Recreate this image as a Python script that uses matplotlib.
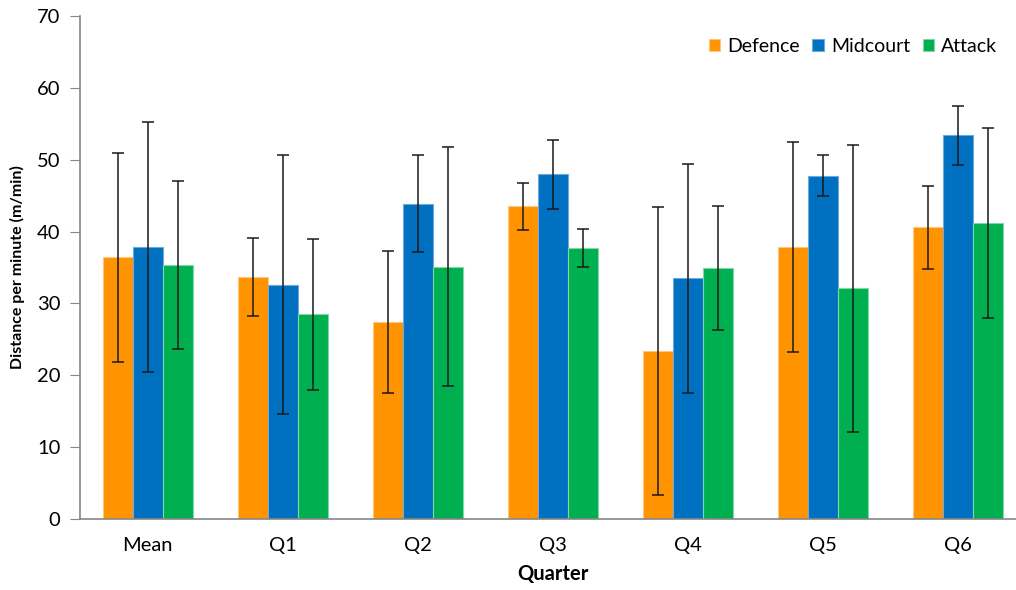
import numpy as np
import matplotlib
matplotlib.use("Agg")
import matplotlib.pyplot as plt

plt.rcParams["font.family"] = ["Lato", "DejaVu Sans"]

# ---- data ----
QUARTERS = ["Mean", "Q1", "Q2", "Q3", "Q4", "Q5", "Q6"]
SERIES = ["Defence", "Midcourt", "Attack"]

defence_mean = [36.4, 33.7, 27.4, 43.5, 23.4, 37.8, 40.6]
defence_sd = [14.6, 5.4, 9.9, 3.3, 20.0, 14.6, 5.8]
midcourt_mean = [37.8, 32.6, 43.9, 48.0, 33.5, 47.8, 53.4]
midcourt_sd = [17.4, 18.0, 6.7, 4.8, 15.9, 2.8, 4.1]
attack_mean = [35.4, 28.5, 35.1, 37.7, 34.9, 32.1, 41.2]
attack_sd = [11.7, 10.5, 16.6, 2.6, 8.6, 20.0, 13.2]

COLORS = ["#FF9400", "#0070C0", "#00B050"]
EDGES = ["#FFC880", "#6FA8DC", "#7FD8A8"]

W, H = 1016, 590
fig = plt.figure(figsize=(W / 100, H / 100), dpi=100)
# axes extends a bit past the right edge, as in the original (cropped)
ax = fig.add_axes([80 / W, 1 - 519 / H, (1026 - 80) / W, (519 - 16) / H])

x = np.arange(len(QUARTERS))
bw = 30 / 135.2
means = [defence_mean, midcourt_mean, attack_mean]
sds = [defence_sd, midcourt_sd, attack_sd]
for i, (m, s) in enumerate(zip(means, sds)):
    ax.bar(x + (i - 1) * bw, m, width=bw, color=COLORS[i],
           edgecolor=EDGES[i], linewidth=0.8, label=SERIES[i], zorder=2)
    ax.errorbar(x + (i - 1) * bw, m, yerr=s, fmt="none", ecolor="#1a1a1a",
                elinewidth=1.1, capsize=4, capthick=1.1, zorder=3)

ax.set_xlim(-0.5, len(QUARTERS) - 0.5)
ax.set_ylim(0, 70)
ax.set_yticks(range(0, 71, 10))
ax.set_xticks(x)
ax.set_xticklabels(QUARTERS)
ax.tick_params(axis="x", length=0, labelsize=14.5, pad=13)
ax.tick_params(axis="y", direction="out", length=7, color="#868686",
               labelsize=14.5, pad=7)

for side in ["top", "right"]:
    ax.spines[side].set_visible(False)
for side in ["left", "bottom"]:
    ax.spines[side].set_color("#868686")
    ax.spines[side].set_linewidth(1.2)

ax.set_ylabel("Distance per minute (m/min)", fontsize=11.5, fontweight="bold",
              labelpad=9)
ax.set_xlabel("Quarter", fontsize=14.5, fontweight="bold", labelpad=7)

fig.legend(loc="upper right", bbox_to_anchor=(1005 / W, 1 - 30 / H), ncol=3,
           frameon=False, fontsize=14, handlelength=0.6, handleheight=0.6,
           handletextpad=0.35, columnspacing=0.65, borderaxespad=0)

fig.savefig("out.png", dpi=100)
